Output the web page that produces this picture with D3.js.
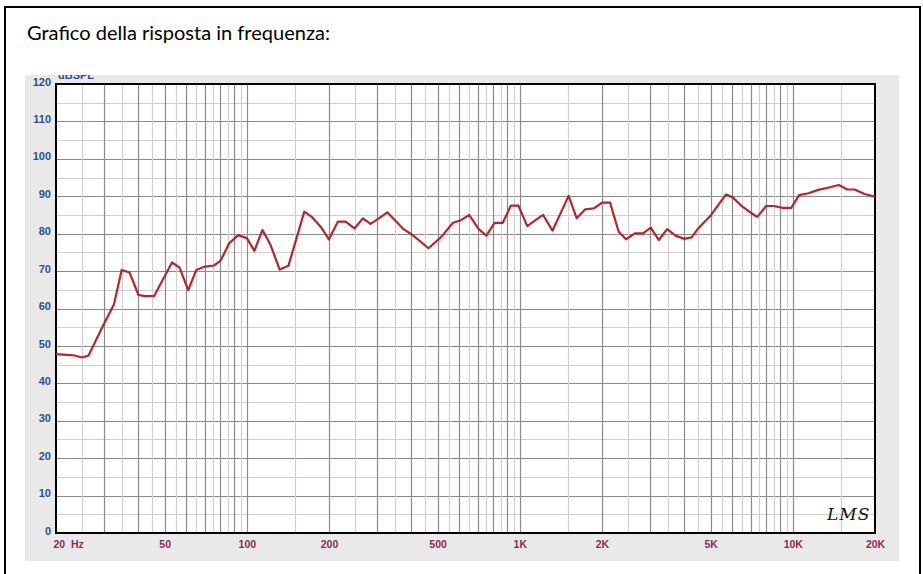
<!DOCTYPE html>
<html>
<head>
<meta charset="utf-8">
<script src="https://cdn.jsdelivr.net/npm/d3@7/dist/d3.min.js"></script>
<style>
html,body{margin:0;padding:0;background:#fff;}
svg{display:block;}
</style>
</head>
<body>
<svg id="chart" width="923" height="574"></svg>
<script>
// ---- data ----
const title = "Grafico della risposta in frequenza:";
const freqs = [20,21.9,23.2,24.9,26.3,29.7,32.6,34.8,37.2,40.1,42.4,45.7,53.2,56.7,61.0,65.3,70.3,75.9,80.2,86.1,93.0,100,106.6,114.1,122,131.9,142,162.4,173.4,187.2,199.8,215.5,230,248,266,284,304.5,327,375,405,463,517,569,605,652,707,754,808,866,927,988,1065,1151,1217,1317,1509,1616,1737,1872,2002,2141,2302,2449,2640,2829,3016,3231,3463,3731,4007,4257,4500,4983,5693,6022,6539,7009,7408,7990,8522,9181,9866,10549,11410,12400,13680,14745,15838,16840,18311,20000];
const spl = [47.8,47.6,47.5,46.9,47.4,55.3,61.1,70.3,69.6,63.6,63.3,63.3,72.3,70.9,64.9,70.3,71.2,71.5,72.8,77.4,79.6,78.8,75.4,81.0,77.1,70.4,71.4,85.9,84.4,81.7,78.5,83.2,83.2,81.4,84.1,82.6,84.1,85.7,81.2,79.6,76.1,79.2,82.9,83.5,85.0,81.2,79.5,82.9,82.9,87.5,87.5,82.0,83.8,85.0,80.8,90.1,84.1,86.5,86.8,88.3,88.3,80.5,78.5,80.1,80.1,81.6,78.3,81.2,79.4,78.6,79.0,81.4,84.7,90.5,89.7,87.2,85.6,84.5,87.4,87.4,86.9,86.9,90.3,90.8,91.7,92.4,93.0,91.8,91.8,90.6,89.9];
const xTickValues = [20,50,100,200,500,1000,2000,5000,10000,20000];
const xTickLabels = ["20  Hz","50","100","200","500","1K","2K","5K","10K","20K"];
const yTickValues = [0,10,20,30,40,50,60,70,80,90,100,110,120];
const gridMantissas = [1,1.5,2,2.5,3,3.5,4,4.5,5,5.5,6,6.5,7,7.5,8,8.5,9,9.5];
const decades = [10,100,1000,10000];
const yUnit = "dBSPL";
const logoText = "LMS";

// ---- layout ----
const svg = d3.select("#chart");
const L = 56, R = 875, T = 84, B = 533;
const x = d3.scaleLog().domain([20,20000]).range([L,R]);
const y = d3.scaleLinear().domain([0,120]).range([B,T]);

// outer frame
svg.append("rect").attr("x",5).attr("y",7).attr("width",915).attr("height",620)
  .attr("fill","#fff").attr("stroke","#000").attr("stroke-width",2);

// title
const tt = svg.append("text").attr("x",27).attr("y",40)
  .attr("font-family","Lato, 'Open Sans', sans-serif").attr("font-size",18)
  .attr("fill","#000").text(title);
const w = tt.node().getComputedTextLength();
tt.attr("font-size", 18*303/w);

// gray panel
svg.append("rect").attr("x",25).attr("y",75).attr("width",874).attr("height",486).attr("fill","#e9e9e9");

// clip for unit label
svg.append("clipPath").attr("id","panelClip").append("rect").attr("x",25).attr("y",75).attr("width",874).attr("height",486);
svg.append("text").attr("clip-path","url(#panelClip)").attr("x",58).attr("y",79)
  .attr("font-family","Liberation Sans, Arial, sans-serif").attr("font-size",11).attr("font-weight","bold")
  .attr("fill","#2f4f8a").text(yUnit);

// plot background
svg.append("rect").attr("x",L).attr("y",T).attr("width",R-L).attr("height",B-T).attr("fill","#fff");

// grid
const gridF = [];
decades.forEach(d => gridMantissas.forEach(m => {
  const f = d*m; if (f>20 && f<20000) gridF.push({f, major: Number.isInteger(m)});
}));
const grid = svg.append("g");
const hLines = d3.range(5,120,5);
grid.selectAll(".hl").data(hLines).join("line")
  .attr("x1",L).attr("x2",R).attr("y1",d=>Math.round(y(d))+0.5).attr("y2",d=>Math.round(y(d))+0.5)
  .attr("stroke",d=>d%10===0?"#8a8a8a":"#cfcfcf").attr("stroke-width",1.2);
grid.selectAll(".vl").data(gridF).join("line")
  .attr("y1",T).attr("y2",B).attr("x1",d=>Math.round(x(d.f))+0.5).attr("x2",d=>Math.round(x(d.f))+0.5)
  .attr("stroke",d=>d.major?"#8a8a8a":"#cfcfcf").attr("stroke-width",1.2);

// axes labels
const yAxis = d3.axisLeft(y).tickValues(yTickValues).tickSize(0).tickPadding(5);
const gy = svg.append("g").attr("transform",`translate(${L},0)`).call(yAxis);
gy.select(".domain").remove();
gy.selectAll("text").attr("font-family","Liberation Sans, Arial, sans-serif").attr("font-size",11)
  .attr("font-weight","bold").attr("fill","#2f4f8a").attr("dy","0.1em");

const xAxis = d3.axisBottom(x).tickValues(xTickValues).tickSize(0).tickPadding(8)
  .tickFormat((d,i)=>xTickLabels[i]);
const gx = svg.append("g").attr("transform",`translate(0,${B})`).call(xAxis);
gx.select(".domain").remove();
gx.selectAll("text").attr("font-family","Liberation Sans, Arial, sans-serif").attr("font-size",10.5)
  .attr("font-weight","bold").attr("fill","#8c2a55").attr("xml:space","preserve")
  .style("white-space","pre");
gx.selectAll("text").filter((d,i)=>i===0).attr("text-anchor","start").attr("dx",-3);

// plot border
svg.append("rect").attr("x",L).attr("y",T).attr("width",R-L).attr("height",B-T)
  .attr("fill","none").attr("stroke","#000").attr("stroke-width",2);

// curve
const pts = freqs.map((f,i)=>[f,spl[i]]);
const line = d3.line().x(d=>x(d[0])).y(d=>y(d[1]));
svg.append("path").datum(pts).attr("d",line).attr("fill","none")
  .attr("stroke","#b3262a").attr("stroke-width",2.2).attr("stroke-linejoin","round");

// logo
svg.append("text").attr("x",827).attr("y",520)
  .attr("font-family","'DejaVu Serif', serif").attr("font-style","italic").attr("font-size",17)
  .attr("fill","#111").attr("letter-spacing",1).text(logoText);
</script>
</body>
</html>
